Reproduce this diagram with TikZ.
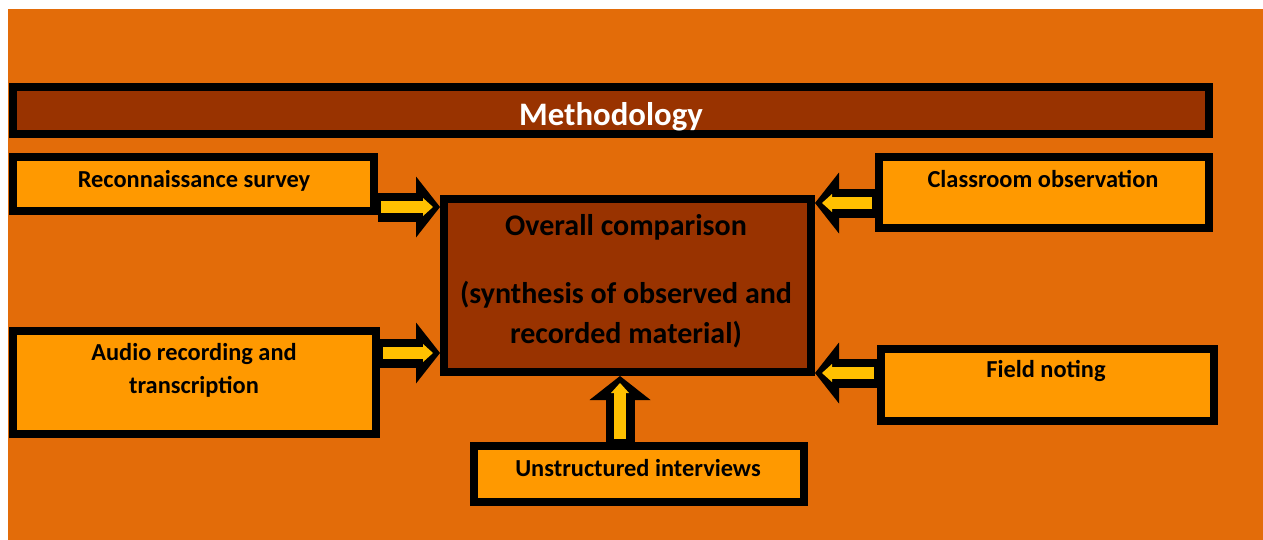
\documentclass[tikz,border=0pt]{standalone}
\usepackage{fontspec}
\setmainfont{Carlito}
\usepackage{tikz}
\usetikzlibrary{arrows.meta}
\definecolor{bgorange}{HTML}{E36C09}
\definecolor{boxorange}{HTML}{FF9900}
\definecolor{darkbrown}{HTML}{993300}
\definecolor{arrowyellow}{HTML}{FFC000}

\begin{document}
\begin{tikzpicture}
      [x=0.5pt, y=-0.5pt,
       frame/.style={rectangle, draw=black, line width=4pt, inner sep=0pt},
       smallbox/.style={frame, fill=boxorange},
       brownbox/.style={frame, fill=darkbrown},
       smalltext/.style={align=center, font=\bfseries\fontsize{12.2}{16.5}\selectfont, inner sep=0pt},
       blackarrow/.style={draw=black, line width=14.5pt,
         -{Triangle[width=30.5pt, length=12pt, line width=0pt]}},
       yellowarrow/.style={draw=arrowyellow, line width=6pt,
         shorten <=1.5pt, shorten >=3.5pt,
         -{Triangle[width=9pt, length=5pt, line width=0pt]}}]
      \useasboundingbox (0, 0) rectangle (1263, 540);
      \fill [bgorange] (8, 9) rectangle (1263, 540);

      \node (method) [brownbox, minimum width=598pt, minimum height=23.5pt] at (611, 110.5) {};
      \node (recon) [smallbox, minimum width=180.5pt, minimum height=27pt] at (193.5, 184) {};
      \node (audio) [smallbox, minimum width=181.5pt, minimum height=51.5pt] at (194.5, 382.5) {};
      \node (class) [smallbox, minimum width=165pt, minimum height=35.5pt] at (1044, 192.5) {};
      \node (field) [smallbox, minimum width=166.5pt, minimum height=36pt] at (1047.5, 385) {};
      \node (inter) [smallbox, minimum width=165pt, minimum height=28pt] at (639, 474) {};
      \node (comp) [brownbox, minimum width=183.5pt, minimum height=86.5pt] at (627.5, 285.5) {};

      \node (methodtext) [font=\bfseries\fontsize{16.4}{20}\selectfont, text=white, inner sep=0pt] at (611, 117) {Methodology};
      \node (recontext) [smalltext] at (194, 181) {Reconnaissance survey};
      \node (audiotext) [smalltext] at (194, 370) {Audio recording and\\transcription};
      \node (classtext) [smalltext] at (1043, 179) {Classroom observation};
      \node (fieldtext) [smalltext] at (1046, 371) {Field noting};
      \node (intertext) [smalltext] at (638, 468) {Unstructured interviews};
      \node (comptext) [align=center, font=\bfseries\fontsize{15}{20}\selectfont, inner sep=0pt, anchor=north] at (626, 214)
        {Overall comparison\\[14pt](synthesis of observed and\\recorded material)};

      \coordinate (r1) at ([yshift=-11.5pt]recon.east);
      \coordinate (a1) at ([yshift=14.75pt]audio.east);
      \coordinate (c1) at ([yshift=-5.25pt]class.west);
      \coordinate (f1) at ([yshift=6pt]field.west);
      \coordinate (i1) at ([xshift=-9.5pt]inter.north);

      \draw [blackarrow] (r1) -- (r1 -| comp.west);
      \draw [yellowarrow] (r1) -- (r1 -| comp.west);
      \draw [blackarrow] (a1) -- (a1 -| comp.west);
      \draw [yellowarrow] (a1) -- (a1 -| comp.west);
      \draw [blackarrow] (c1) -- (c1 -| comp.east);
      \draw [yellowarrow] (c1) -- (c1 -| comp.east);
      \draw [blackarrow] (f1) -- (f1 -| comp.east);
      \draw [yellowarrow] (f1) -- (f1 -| comp.east);
      \draw [blackarrow] (i1) -- (i1 |- comp.south);
      \draw [yellowarrow] (i1) -- (i1 |- comp.south);

    \end{tikzpicture}
\end{document}
